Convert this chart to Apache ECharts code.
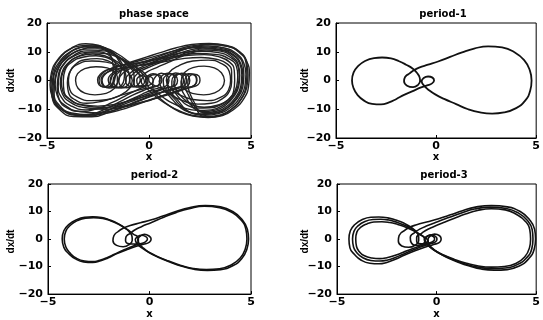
<!DOCTYPE html>
<html>
<head>
<meta charset="utf-8">
<script src="https://cdn.jsdelivr.net/npm/echarts@6/dist/echarts.min.js"></script>
<style>
  html, body { margin: 0; padding: 0; background: #fff; }
  #chart { width: 543px; height: 320px; }
</style>
</head>
<body>
<div id="chart"></div>
<script>
// ---- axis ranges and labels ----
const X_TICKS = [-5, 0, 5];
const Y_TICKS = [-20, -10, 0, 10, 20];
const PANEL_TITLES = ['phase space', 'period-1', 'period-2', 'period-3'];
const X_NAME = 'x';
const Y_NAME = 'dx/dt';

// ---- trajectories in the (x, dx/dt) plane ----
// chaotic attractor: a set of laps sampled along the orbit
const PS_LAP_1 = [[-2.1,2.5],[-1.85,3.8],[-1.4,5.2],[-0.8,6.6],[-0.1,8.2],[0.6,9.8],[1.3,11.3],[2.1,12.5],[2.95,12.9],[3.8,12.2],[4.45,10.0],[4.8,6.5],[4.92,2.5],[4.88,-2.0],[4.65,-6.3],[4.2,-9.8],[3.6,-12.2],[2.9,-12.9],[2.15,-12.4],[1.5,-10.9],[1.0,-8.8],[0.6,-6.6],[0.3,-4.4],[0.18,-2.2],[0.2,-0.3],[0.35,1.6],[0.6,2.5],[0.9,1.7],[0.98,0],[0.85,-1.8],[0.55,-2.5],[0.15,-3.3],[-0.35,-4.8],[-0.9,-6.6],[-1.5,-8.6],[-2.15,-10.8],[-2.9,-12.4],[-3.75,-11.8],[-4.4,-9.3],[-4.75,-5.6],[-4.85,-1.5],[-4.78,2.8],[-4.5,7.0],[-4.0,10.3],[-3.4,12.0],[-2.75,12.3],[-2.1,11.2],[-1.7,9.0],[-1.45,6.5],[-1.35,4.0],[-1.45,1.6],[-1.52,-0.5],[-1.7,-2.2],[-1.95,-2.6],[-2.2,-1.9],[-2.3,0],[-2.1,2.5]];
const PS_LAP_2 = [[-1.3,2.4],[-1.05,3.7],[-0.6,5.0],[0.0,6.6],[0.7,8.4],[1.4,10.2],[2.1,11.5],[2.9,12.0],[3.7,11.3],[4.3,9.3],[4.65,6.0],[4.75,2.2],[4.7,-2.0],[4.45,-6.0],[4.0,-9.4],[3.4,-11.5],[2.75,-12.1],[2.15,-11.5],[1.75,-9.8],[1.5,-7.6],[1.2,-5.2],[0.95,-2.8],[0.9,-0.5],[1.05,1.7],[1.3,2.6],[1.6,1.8],[1.7,0],[1.6,-1.8],[1.3,-2.6],[0.9,-3.4],[0.35,-4.9],[-0.3,-6.6],[-0.95,-8.4],[-1.65,-10.2],[-2.5,-11.3],[-3.4,-10.8],[-4.15,-8.5],[-4.5,-5.2],[-4.6,-1.4],[-4.52,2.6],[-4.25,6.5],[-3.75,9.4],[-3.15,10.9],[-2.5,11.0],[-1.9,9.8],[-1.4,7.6],[-1.0,5.0],[-0.75,2.5],[-0.72,0],[-0.8,-1.8],[-1.1,-2.5],[-1.4,-1.8],[-1.48,0],[-1.3,2.4]];
const PS_LAP_3 = [[-0.6,2.2],[-0.35,3.5],[0.1,4.9],[0.7,6.6],[1.35,8.4],[2.0,10.0],[2.75,11.0],[3.5,10.6],[4.1,8.8],[4.45,5.8],[4.55,2.0],[4.5,-2.0],[4.25,-5.8],[3.85,-8.8],[3.3,-10.7],[2.75,-11.2],[2.3,-10.2],[2.0,-8.0],[1.78,-5.5],[1.6,-2.9],[1.57,-0.4],[1.7,1.7],[1.95,2.4],[2.25,1.7],[2.33,0],[2.22,-1.7],[1.95,-2.4],[1.5,-3.3],[0.9,-4.7],[0.2,-6.3],[-0.5,-7.9],[-1.3,-9.3],[-2.2,-10.0],[-3.1,-9.5],[-3.85,-7.6],[-4.25,-4.6],[-4.35,-1.1],[-4.28,2.4],[-4.0,5.8],[-3.5,8.3],[-2.85,9.6],[-2.15,9.4],[-1.5,8.0],[-0.95,6.0],[-0.45,3.8],[-0.12,1.6],[-0.05,-0.4],[-0.2,-1.9],[-0.45,-2.3],[-0.72,-1.6],[-0.75,0.3],[-0.6,2.2]];
const PS_LAP_4 = [[-1.8,2.5],[-1.5,3.9],[-1.0,5.2],[-0.4,6.3],[0.3,7.4],[1.0,8.7],[1.75,9.8],[2.6,10.2],[3.4,9.7],[4.0,8.0],[4.35,5.2],[4.42,1.8],[4.36,-2.0],[4.1,-5.6],[3.65,-8.5],[3.05,-10.2],[2.35,-10.4],[1.7,-9.5],[1.15,-7.9],[0.7,-5.9],[0.3,-3.7],[-0.1,-1.6],[-0.17,0.2],[-0.02,1.8],[0.2,2.4],[0.45,1.7],[0.55,0],[0.45,-1.7],[0.15,-2.4],[-0.25,-3.4],[-0.8,-5.1],[-1.4,-7.3],[-2.05,-9.6],[-2.8,-11.6],[-3.6,-12.0],[-4.3,-10.0],[-4.68,-6.5],[-4.75,-2.3],[-4.68,2.2],[-4.4,6.4],[-3.9,9.8],[-3.25,11.6],[-2.55,11.8],[-1.95,10.5],[-1.55,8.2],[-1.3,5.6],[-1.2,3.0],[-1.22,0.5],[-1.35,-1.7],[-1.6,-2.5],[-1.88,-1.8],[-2.0,0.2],[-1.8,2.5]];
const PS_LAP_5 = [[-1.0,2.1],[-0.75,3.4],[-0.3,4.9],[0.3,6.7],[0.95,8.6],[1.6,10.5],[2.3,11.9],[3.1,12.5],[3.9,11.8],[4.5,9.4],[4.8,5.9],[4.85,2.0],[4.8,-2.2],[4.55,-6.2],[4.1,-9.6],[3.5,-12.0],[2.8,-12.6],[2.1,-12.1],[1.5,-10.6],[0.95,-8.6],[0.5,-6.5],[0.12,-4.2],[-0.18,-2.3],[-0.38,-0.4],[-0.3,1.1],[-0.1,1.6],[0.15,1.0],[0.2,-0.2],[0.1,-1.3],[-0.2,-2.1],[-0.65,-3.5],[-1.2,-5.5],[-1.8,-7.6],[-2.5,-9.7],[-3.3,-10.8],[-4.0,-9.6],[-4.4,-6.6],[-4.5,-2.6],[-4.45,1.6],[-4.2,5.6],[-3.7,8.7],[-3.05,10.3],[-2.35,10.4],[-1.7,9.0],[-1.2,6.9],[-0.8,4.6],[-0.5,2.4],[-0.43,0.2],[-0.55,-1.6],[-0.8,-2.2],[-1.08,-1.5],[-1.15,0.3],[-1.0,2.1]];
const PS_LAP_6 = [[-1.7,2.4],[-1.4,3.6],[-0.9,4.6],[-0.2,5.6],[0.5,6.7],[1.2,7.9],[1.95,8.8],[2.7,9.0],[3.4,8.3],[3.95,6.4],[4.18,3.5],[4.2,0],[4.15,-3.6],[3.9,-6.6],[3.35,-8.6],[2.7,-9.3],[2.15,-8.6],[1.8,-7.0],[1.5,-4.9],[1.3,-2.7],[1.22,-0.4],[1.35,1.7],[1.6,2.5],[1.9,1.8],[2.0,0],[1.9,-1.8],[1.6,-2.5],[1.15,-3.2],[0.5,-4.4],[-0.2,-5.6],[-0.9,-6.9],[-1.65,-8.2],[-2.5,-8.9],[-3.3,-8.4],[-3.9,-6.4],[-4.17,-3.5],[-4.2,0],[-4.12,3.5],[-3.8,6.3],[-3.25,8.1],[-2.6,8.6],[-2.05,7.9],[-1.65,6.4],[-1.35,4.5],[-1.15,2.4],[-1.12,0],[-1.25,-1.8],[-1.5,-2.5],[-1.8,-1.8],[-1.9,0.2],[-1.7,2.4]];
const PS_LAP_7 = [[-2.3,2.3],[-2.05,3.6],[-1.6,4.8],[-0.95,6.0],[-0.2,7.4],[0.55,8.9],[1.3,10.4],[2.1,11.4],[2.9,11.6],[3.7,10.9],[4.3,8.8],[4.6,5.6],[4.65,1.8],[4.6,-2.2],[4.35,-6.0],[3.9,-9.3],[3.3,-11.3],[2.6,-11.8],[1.95,-11.0],[1.5,-9.2],[1.2,-7.0],[0.9,-4.6],[0.6,-2.4],[0.5,-0.3],[0.65,1.7],[0.9,2.5],[1.2,1.8],[1.28,0],[1.18,-1.8],[0.88,-2.5],[0.45,-3.3],[-0.1,-4.7],[-0.75,-6.4],[-1.45,-8.2],[-2.25,-9.7],[-3.1,-10.2],[-3.85,-8.7],[-4.3,-5.8],[-4.45,-2.0],[-4.4,2.0],[-4.15,5.8],[-3.7,8.4],[-3.1,9.8],[-2.45,10.0],[-1.95,8.7],[-1.7,6.7],[-1.6,4.4],[-1.65,2.0],[-1.75,-0.2],[-1.88,-1.9],[-2.12,-2.4],[-2.38,-1.7],[-2.45,0.2],[-2.3,2.3]];
const PS_LAP_8 = [[-0.3,1.9],[-0.05,3.2],[0.4,4.6],[0.95,6.3],[1.5,8.1],[2.1,9.7],[2.8,10.6],[3.5,10.2],[4.05,8.4],[4.38,5.4],[4.45,1.8],[4.4,-2.0],[4.15,-5.6],[3.75,-8.6],[3.2,-10.4],[2.65,-10.8],[2.3,-9.6],[2.1,-7.4],[1.93,-5.0],[1.78,-2.6],[1.75,-0.3],[1.85,1.6],[2.05,2.3],[2.3,1.6],[2.35,0],[2.25,-1.6],[2.0,-2.3],[1.5,-3.4],[0.85,-4.9],[0.15,-6.6],[-0.6,-8.4],[-1.4,-10.2],[-2.3,-11.7],[-3.2,-12.2],[-4.0,-11.0],[-4.55,-8.0],[-4.7,-4.0],[-4.68,0.2],[-4.5,4.5],[-4.1,8.3],[-3.5,11.1],[-2.8,12.0],[-2.15,11.3],[-1.55,9.3],[-1.05,6.8],[-0.6,4.2],[-0.28,2.0],[-0.1,0],[-0.15,-1.5],[-0.35,-2.0],[-0.55,-1.5],[-0.6,0.2],[-0.3,1.9]];
const PS_LAP_9 = [[-0.8,2.2],[-0.55,3.5],[-0.1,4.9],[0.5,6.6],[1.15,8.5],[1.85,10.3],[2.65,11.3],[3.5,10.8],[4.15,8.9],[4.5,5.8],[4.6,2.0],[4.55,-2.1],[4.3,-6.0],[3.85,-9.3],[3.25,-11.2],[2.55,-11.6],[1.95,-10.8],[1.55,-8.8],[1.25,-6.4],[0.95,-4.0],[0.72,-1.8],[0.7,0.2],[0.85,1.8],[1.05,2.3],[1.3,1.7],[1.4,0],[1.3,-1.7],[1.0,-2.4],[0.55,-3.4],[0.0,-4.9],[-0.65,-6.7],[-1.35,-8.6],[-2.1,-10.5],[-2.95,-11.9],[-3.8,-11.3],[-4.4,-8.6],[-4.65,-4.6],[-4.62,-0.2],[-4.45,4.2],[-4.0,8.0],[-3.35,10.7],[-2.65,11.5],[-2.0,10.5],[-1.5,8.3],[-1.05,5.7],[-0.65,3.2],[-0.3,1.1],[-0.22,-0.6],[-0.38,-1.9],[-0.62,-2.3],[-0.88,-1.6],[-0.95,0.3],[-0.8,2.2]];
const PS_LAP_10 = [[-2.2,2.2],[-1.9,3.3],[-1.35,4.3],[-0.6,5.1],[0.2,5.9],[0.95,6.8],[1.75,7.7],[2.55,8.0],[3.3,7.4],[3.85,5.7],[4.05,3.0],[4.05,-0.5],[3.95,-3.6],[3.6,-6.3],[3.05,-7.9],[2.4,-8.2],[1.8,-7.4],[1.3,-5.9],[0.9,-4.1],[0.5,-2.4],[0.05,-0.8],[-0.02,0.8],[0.15,1.9],[0.35,2.1],[0.58,1.5],[0.63,0],[0.52,-1.5],[0.25,-2.1],[-0.2,-2.8],[-0.85,-4.0],[-1.55,-5.6],[-2.3,-7.2],[-3.05,-7.9],[-3.65,-6.6],[-3.95,-4.0],[-4.0,-0.8],[-3.92,2.4],[-3.65,5.3],[-3.15,7.2],[-2.55,7.6],[-2.0,6.8],[-1.7,5.2],[-1.62,3.3],[-1.65,1.4],[-1.72,-0.6],[-1.85,-2.0],[-2.05,-2.3],[-2.28,-1.6],[-2.35,0.3],[-2.2,2.2]];
const PS_LAP_11 = [[-1.55,2.4],[-1.3,3.7],[-0.85,5.0],[-0.2,6.6],[0.5,8.4],[1.25,10.4],[2.05,12.0],[2.95,12.6],[3.8,12.0],[4.4,9.9],[4.75,6.4],[4.8,2.2],[4.75,-2.2],[4.5,-6.5],[4.05,-10.0],[3.45,-12.3],[2.8,-12.8],[2.45,-11.5],[2.3,-8.8],[2.1,-6.0],[1.95,-3.3],[1.9,-0.8],[1.98,1.4],[2.2,2.2],[2.45,1.5],[2.5,0],[2.4,-1.5],[2.15,-2.2],[1.7,-3.2],[1.05,-4.7],[0.3,-6.3],[-0.5,-7.8],[-1.35,-9.0],[-2.25,-9.4],[-3.15,-8.8],[-3.85,-6.8],[-4.22,-3.8],[-4.3,-0.3],[-4.2,3.2],[-3.9,6.3],[-3.4,8.5],[-2.75,9.2],[-2.1,8.4],[-1.6,6.7],[-1.2,4.6],[-0.97,2.4],[-0.95,0],[-1.08,-1.9],[-1.35,-2.6],[-1.65,-1.9],[-1.75,0.2],[-1.55,2.4]];
const PS_LAP_12 = [[-2.4,2.1],[-2.15,3.4],[-1.65,4.6],[-0.95,5.6],[-0.15,6.6],[0.65,7.6],[1.5,8.7],[2.4,9.4],[3.25,9.1],[3.9,7.6],[4.28,5.0],[4.35,1.6],[4.3,-2.0],[4.05,-5.4],[3.6,-8.1],[3.0,-9.5],[2.35,-9.6],[1.85,-8.5],[1.55,-6.6],[1.3,-4.5],[1.12,-2.4],[1.12,-0.3],[1.25,1.7],[1.5,2.4],[1.78,1.7],[1.85,0],[1.75,-1.7],[1.45,-2.4],[1.0,-3.2],[0.35,-4.7],[-0.35,-6.5],[-1.1,-8.6],[-1.9,-10.8],[-2.8,-12.6],[-3.7,-12.5],[-4.4,-10.0],[-4.75,-5.8],[-4.8,-1.2],[-4.7,3.5],[-4.35,8.0],[-3.8,11.3],[-3.1,12.8],[-2.45,12.2],[-2.0,9.9],[-1.8,7.1],[-1.75,4.4],[-1.8,1.9],[-1.9,-0.4],[-2.02,-1.8],[-2.22,-2.2],[-2.45,-1.5],[-2.52,0.3],[-2.4,2.1]];
// single-well oscillations around the left and right equilibria
const PS_LEFT_RING_1 = [[-3.6,0],[-3.5,2.4],[-3.15,4.1],[-2.6,4.8],[-2.05,4.4],[-1.7,3.0],[-1.55,1.2],[-1.55,-0.8],[-1.72,-2.9],[-2.1,-4.5],[-2.65,-5.0],[-3.15,-4.4],[-3.48,-2.7],[-3.6,0]];
const PS_LEFT_RING_2 = [[-3.95,0],[-3.85,3.3],[-3.45,5.8],[-2.8,6.8],[-2.1,6.4],[-1.45,4.8],[-1.0,2.6],[-0.82,0],[-0.95,-2.7],[-1.4,-5.1],[-2.1,-6.7],[-2.85,-7.0],[-3.5,-5.8],[-3.88,-3.2],[-3.95,0]];
const PS_RIGHT_RING_1 = [[3.7,0],[3.58,-2.5],[3.22,-4.3],[2.68,-5.0],[2.12,-4.5],[1.75,-3.0],[1.6,-1.1],[1.6,0.9],[1.76,2.9],[2.15,4.5],[2.7,5.0],[3.2,4.4],[3.55,2.7],[3.7,0]];
const PS_RIGHT_RING_2 = [[4.0,0],[3.9,-3.3],[3.5,-5.9],[2.85,-7.0],[2.15,-6.6],[1.5,-5.0],[1.05,-2.7],[0.85,0],[0.98,2.7],[1.45,5.1],[2.15,6.8],[2.9,7.1],[3.55,5.9],[3.93,3.2],[4.0,0]];

// period-1 orbit
const P1_ORBIT = [[-1.35,2.3],[-1.15,3.4],[-0.85,4.5],[-0.4,5.5],[0.1,6.6],[0.7,8.2],[1.3,9.8],[1.9,11.1],[2.6,11.9],[3.3,11.5],[3.9,9.9],[4.4,7.1],[4.68,3.6],[4.77,0],[4.7,-3.6],[4.45,-7.0],[4.0,-9.6],[3.4,-11.1],[2.8,-11.5],[2.2,-11.1],[1.6,-10.0],[1.0,-8.2],[0.4,-6.4],[0.0,-5.0],[-0.35,-3.4],[-0.6,-1.8],[-0.72,-0.3],[-0.62,0.9],[-0.4,1.4],[-0.18,1.0],[-0.1,0],[-0.2,-1.0],[-0.45,-1.7],[-0.75,-2.4],[-1.2,-3.8],[-1.6,-5.0],[-2.0,-6.5],[-2.35,-7.6],[-2.75,-8.3],[-3.2,-8.1],[-3.6,-7.0],[-3.92,-5.1],[-4.12,-2.7],[-4.2,0],[-4.12,2.8],[-3.9,5.0],[-3.55,6.8],[-3.1,7.8],[-2.7,8.0],[-2.25,7.7],[-1.85,6.7],[-1.5,5.5],[-1.16,4.1],[-0.95,2.6],[-0.82,1.0],[-0.8,-0.2],[-0.9,-1.5],[-1.15,-2.3],[-1.45,-1.8],[-1.6,-0.3],[-1.55,1.2],[-1.35,2.3]];

// period-2 orbit, two laps
const P2_LAP_A = [[-1.55,2.7],[-1.3,3.9],[-0.95,4.9],[-0.45,5.9],[0.1,7.0],[0.7,8.5],[1.3,10.0],[1.95,11.4],[2.75,12.2],[3.5,11.7],[4.1,10.0],[4.55,7.2],[4.82,3.6],[4.88,0],[4.8,-3.6],[4.55,-7.1],[4.1,-9.7],[3.5,-11.1],[2.85,-11.4],[2.2,-11.0],[1.6,-9.9],[1.0,-8.3],[0.4,-6.5],[0.0,-5.0],[-0.3,-3.3],[-0.5,-1.7],[-0.58,-0.2],[-0.45,1.1],[-0.25,1.7],[-0.02,1.1],[0.08,0],[0.0,-1.1],[-0.3,-1.9],[-0.65,-2.6],[-1.1,-3.8],[-1.6,-5.3],[-2.05,-6.9],[-2.4,-7.9],[-2.8,-8.5],[-3.25,-8.3],[-3.65,-7.2],[-3.98,-5.3],[-4.22,-3.0],[-4.3,0],[-4.22,3.0],[-3.95,5.4],[-3.6,7.0],[-3.2,7.9],[-2.8,8.1],[-2.35,7.8],[-1.95,6.9],[-1.55,5.6],[-1.2,4.0],[-0.98,2.5],[-0.86,0.9],[-0.85,-0.4],[-0.98,-1.9],[-1.3,-2.8],[-1.62,-2.3],[-1.8,-0.6],[-1.75,1.3],[-1.55,2.7]];
const P2_LAP_B = [[-0.95,2.0],[-0.75,3.2],[-0.4,4.5],[0.1,6.0],[0.7,7.9],[1.3,9.6],[1.95,11.0],[2.7,11.9],[3.45,11.4],[4.05,9.7],[4.5,7.0],[4.75,3.5],[4.8,0],[4.72,-3.5],[4.47,-6.9],[4.02,-9.4],[3.45,-10.8],[2.8,-11.1],[2.15,-10.7],[1.55,-9.6],[0.95,-8.0],[0.35,-6.2],[-0.05,-4.7],[-0.4,-3.1],[-0.62,-1.6],[-0.7,-0.2],[-0.58,0.9],[-0.4,1.4],[-0.18,0.9],[-0.1,0],[-0.2,-1.0],[-0.45,-1.7],[-0.8,-2.5],[-1.25,-3.9],[-1.7,-5.4],[-2.1,-6.8],[-2.45,-7.7],[-2.8,-8.2],[-3.2,-8.0],[-3.6,-7.0],[-3.9,-5.2],[-4.12,-2.9],[-4.2,0],[-4.12,2.9],[-3.87,5.2],[-3.55,6.7],[-3.15,7.6],[-2.75,7.8],[-2.3,7.5],[-1.9,6.6],[-1.5,5.3],[-1.1,3.5],[-0.8,1.8],[-0.55,0.4],[-0.55,-0.9],[-0.75,-1.8],[-1.0,-1.7],[-1.18,-0.5],[-1.15,0.9],[-0.95,2.0]];

// period-3 orbit, three laps
const P3_LAP_A = [[-1.65,2.9],[-1.4,4.1],[-1.0,5.2],[-0.5,6.2],[0.1,7.4],[0.7,8.8],[1.3,10.3],[1.95,11.6],[2.75,12.2],[3.55,11.7],[4.2,10.0],[4.65,7.2],[4.92,3.6],[4.97,0],[4.9,-3.7],[4.62,-7.2],[4.15,-9.8],[3.55,-11.1],[2.9,-11.3],[2.25,-10.9],[1.65,-9.8],[1.05,-8.3],[0.5,-6.6],[0.1,-5.0],[-0.2,-3.4],[-0.38,-1.8],[-0.43,-0.2],[-0.3,1.2],[-0.1,1.8],[0.15,1.2],[0.23,0],[0.15,-1.2],[-0.15,-2.0],[-0.55,-2.9],[-1.05,-4.2],[-1.6,-5.8],[-2.1,-7.4],[-2.5,-8.5],[-2.9,-9.0],[-3.35,-8.8],[-3.8,-7.6],[-4.12,-5.6],[-4.35,-3.2],[-4.4,0],[-4.33,3.0],[-4.1,5.3],[-3.75,7.0],[-3.3,7.9],[-2.9,8.0],[-2.45,7.7],[-2.05,6.9],[-1.65,5.8],[-1.25,4.1],[-1.0,2.4],[-0.9,0.8],[-0.9,-0.6],[-1.05,-2.1],[-1.4,-3.0],[-1.75,-2.5],[-1.92,-0.7],[-1.88,1.3],[-1.65,2.9]];
const P3_LAP_B = [[-1.1,2.3],[-0.85,3.6],[-0.45,4.9],[0.05,6.3],[0.65,7.9],[1.25,9.5],[1.9,10.9],[2.7,11.6],[3.5,11.1],[4.1,9.5],[4.55,6.8],[4.8,3.4],[4.84,0],[4.78,-3.5],[4.52,-6.8],[4.05,-9.3],[3.45,-10.5],[2.8,-10.7],[2.15,-10.3],[1.55,-9.3],[0.95,-7.8],[0.4,-6.1],[0.0,-4.6],[-0.3,-3.0],[-0.5,-1.5],[-0.58,-0.1],[-0.46,1.0],[-0.28,1.5],[-0.06,1.0],[0.02,0],[-0.06,-1.0],[-0.32,-1.7],[-0.7,-2.6],[-1.15,-3.9],[-1.65,-5.4],[-2.1,-6.8],[-2.45,-7.6],[-2.85,-8.0],[-3.3,-7.8],[-3.7,-6.8],[-4.0,-5.0],[-4.17,-2.9],[-4.22,0],[-4.15,2.8],[-3.93,4.9],[-3.6,6.4],[-3.2,7.1],[-2.8,7.2],[-2.4,6.9],[-2.0,6.1],[-1.6,5.0],[-1.2,3.6],[-0.9,2.0],[-0.62,0.5],[-0.58,-0.8],[-0.75,-2.0],[-1.0,-2.3],[-1.28,-1.2],[-1.32,0.6],[-1.1,2.3]];
const P3_LAP_C = [[-0.8,1.8],[-0.55,3.1],[-0.15,4.5],[0.35,6.0],[0.9,7.6],[1.45,9.1],[2.05,10.4],[2.75,11.0],[3.45,10.6],[4.0,9.0],[4.45,6.5],[4.68,3.3],[4.72,0],[4.66,-3.3],[4.42,-6.5],[3.98,-8.9],[3.4,-10.0],[2.75,-10.2],[2.1,-9.8],[1.5,-8.8],[0.9,-7.4],[0.35,-5.8],[-0.05,-4.3],[-0.35,-2.8],[-0.55,-1.4],[-0.62,-0.1],[-0.52,0.9],[-0.36,1.3],[-0.16,0.9],[-0.1,0],[-0.18,-0.9],[-0.42,-1.6],[-0.8,-2.5],[-1.25,-3.6],[-1.7,-4.9],[-2.15,-6.1],[-2.5,-6.8],[-2.85,-7.1],[-3.25,-6.9],[-3.65,-6.0],[-3.9,-4.4],[-4.02,-2.7],[-4.06,0],[-4.0,2.6],[-3.8,4.3],[-3.5,5.5],[-3.15,6.2],[-2.75,6.3],[-2.35,6.0],[-1.95,5.3],[-1.6,4.5],[-1.2,3.2],[-0.9,1.9],[-0.6,0.6],[-0.45,-0.5],[-0.55,-1.5],[-0.78,-1.7],[-1.0,-0.8],[-1.0,0.6],[-0.8,1.8]];

// ---- layout and styling of the four panels ----
const PANELS = [
  { title: PANEL_TITLES[0], rect: { left: 47, top: 23, width: 204, height: 115 }, yNameX: 11,
    curves: [PS_LAP_1, PS_LAP_2, PS_LAP_3, PS_LAP_4, PS_LAP_5, PS_LAP_6, PS_LAP_7, PS_LAP_8,
             PS_LAP_9, PS_LAP_10, PS_LAP_11, PS_LAP_12,
             PS_LEFT_RING_1, PS_LEFT_RING_2, PS_RIGHT_RING_1, PS_RIGHT_RING_2],
    width: 1.4, color: '#222' },
  { title: PANEL_TITLES[1], rect: { left: 336, top: 23, width: 204, height: 115 }, yNameX: 305,
    curves: [P1_ORBIT], width: 1.8, color: '#111' },
  { title: PANEL_TITLES[2], rect: { left: 48, top: 184, width: 203, height: 115 }, yNameX: 11,
    curves: [P2_LAP_A, P2_LAP_B], width: 1.6, color: '#111' },
  { title: PANEL_TITLES[3], rect: { left: 337, top: 184, width: 204, height: 115 }, yNameX: 305,
    curves: [P3_LAP_A, P3_LAP_B, P3_LAP_C], width: 1.6, color: '#111' }
];

const FONT = 'DejaVu Sans';
const minus = v => (v < 0 ? '\u2212' + Math.abs(v) : String(v));

const grids = [], xAxes = [], yAxes = [], titles = [], series = [], graphics = [];
PANELS.forEach((p, i) => {
  grids.push(Object.assign({ show: true, borderColor: '#000', borderWidth: 1, backgroundColor: '#fff' }, p.rect));
  titles.push({
    text: p.title,
    left: p.rect.left + p.rect.width / 2,
    top: p.rect.top - 19,
    textAlign: 'center',
    textStyle: { fontFamily: FONT, fontWeight: 'bold', fontSize: 10, color: '#000' }
  });
  // vertical axis caption, rotated to read bottom-to-top
  graphics.push({
    type: 'text',
    x: p.yNameX,
    y: p.rect.top + p.rect.height / 2,
    rotation: Math.PI / 2,
    silent: true,
    style: {
      text: Y_NAME,
      font: 'bold 10px "Liberation Sans"',
      fill: '#000',
      align: 'center',
      verticalAlign: 'middle'
    }
  });
  xAxes.push({
    type: 'value', gridIndex: i,
    min: X_TICKS[0], max: X_TICKS[X_TICKS.length - 1], interval: X_TICKS[1] - X_TICKS[0],
    name: X_NAME, nameLocation: 'middle', nameGap: 12,
    nameTextStyle: { fontFamily: FONT, fontWeight: 'bold', fontSize: 10, color: '#000' },
    axisLine: { show: true, onZero: false, lineStyle: { color: '#000', width: 1 } },
    axisTick: { show: true, inside: true, length: 3, lineStyle: { color: '#000' } },
    axisLabel: { formatter: minus, fontFamily: FONT, fontWeight: 'bold', fontSize: 11, color: '#000', margin: 3 },
    splitLine: { show: false }
  });
  yAxes.push({
    type: 'value', gridIndex: i,
    min: Y_TICKS[0], max: Y_TICKS[Y_TICKS.length - 1], interval: Y_TICKS[1] - Y_TICKS[0],
    axisLine: { show: true, onZero: false, lineStyle: { color: '#000', width: 1 } },
    axisTick: { show: true, inside: true, length: 3, lineStyle: { color: '#000' } },
    axisLabel: { formatter: minus, fontFamily: FONT, fontWeight: 'bold', fontSize: 11, color: '#000', margin: 5 },
    splitLine: { show: false }
  });
  p.curves.forEach(c => {
    series.push({
      type: 'line', xAxisIndex: i, yAxisIndex: i, data: c,
      showSymbol: false, smooth: 0.5, silent: true,
      lineStyle: { color: p.color, width: p.width }
    });
  });
});

const chart = echarts.init(document.getElementById('chart'), null, { renderer: 'canvas' });
chart.setOption({
  animation: false,
  backgroundColor: '#fff',
  title: titles,
  grid: grids,
  xAxis: xAxes,
  yAxis: yAxes,
  series: series,
  graphic: graphics
});
</script>
</body>
</html>
